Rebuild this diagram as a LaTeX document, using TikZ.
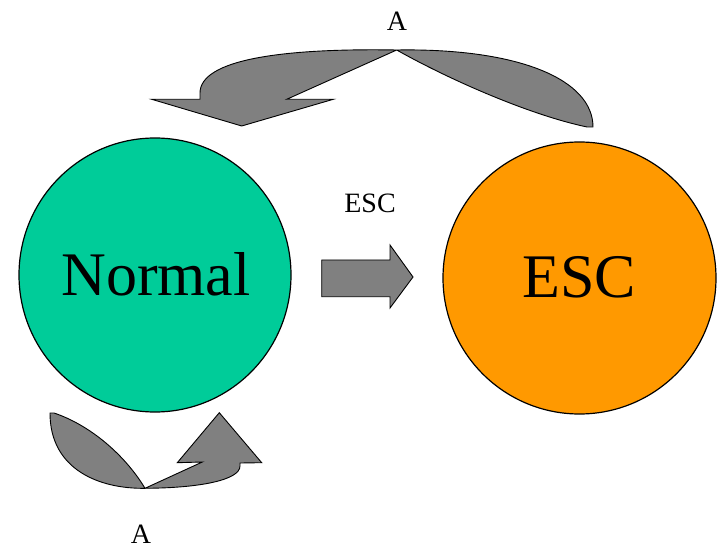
\documentclass[tikz,border=0pt]{standalone}
\usepackage{fontspec}
\setmainfont{Liberation Serif}
\definecolor{normalgreen}{RGB}{0,204,153}
\definecolor{escorange}{RGB}{255,153,0}
\definecolor{arrowgray}{RGB}{128,128,128}
\begin{document}
\begin{tikzpicture}[x=1pt,y=-1pt,
  state/.style={draw=black,line width=1.2pt,ellipse},
  blockarrow/.style={draw=black,fill=arrowgray,line width=0.9pt,line join=miter},
  bigtext/.style={font=\fontsize{62}{62}\selectfont,anchor=base,inner sep=0pt},
  smalltext/.style={font=\fontsize{28}{28}\selectfont,anchor=base,inner sep=0pt}]
\useasboundingbox (0,0) rectangle (723,548);
% states
\fill[normalgreen,draw=black,line width=1.2pt] (155,275) ellipse [x radius=136, y radius=137];
\fill[escorange,draw=black,line width=1.2pt] (579.5,278) ellipse [x radius=136.5, y radius=136];
\node[bigtext] (normal) at (156,295) {Normal};
\node[bigtext] (esc) at (579,297) {ESC};
% middle arrow
\draw[blockarrow] (321.7,260) -- (390,260) -- (390,245) -- (413,277) -- (390,308) -- (390,296.7) -- (321.7,296.7) -- cycle;
\node[smalltext] (esclabel) at (370,213) {ESC};
% top curved arrow
\draw[blockarrow] (396.7,50) .. controls (520,48) and (593,80) .. (593,127)
  -- (587,127) .. controls (530,115) and (450,80) .. (396.7,50)
  .. controls (280,48) and (200,60) .. (200,93)
  -- (200,99.3) -- (151.7,99.3) -- (241.7,126) -- (333.3,99.3) -- (286.7,99.3) -- cycle;
\node[smalltext] (atop) at (397,31) {A};
% bottom curved arrow
\draw[blockarrow] (145,488.3) .. controls (100,489) and (50,470) .. (50,413)
  -- (54,413) .. controls (90,425) and (125,455) .. (145,488.3)
  .. controls (200,488) and (240,480) .. (240,466)
  -- (240,463) -- (261.7,462.7) -- (219.3,412.7) -- (177.3,462.7) -- (202.3,462) -- cycle;
\node[smalltext] (abot) at (141,543) {A};
\end{tikzpicture}
\end{document}
